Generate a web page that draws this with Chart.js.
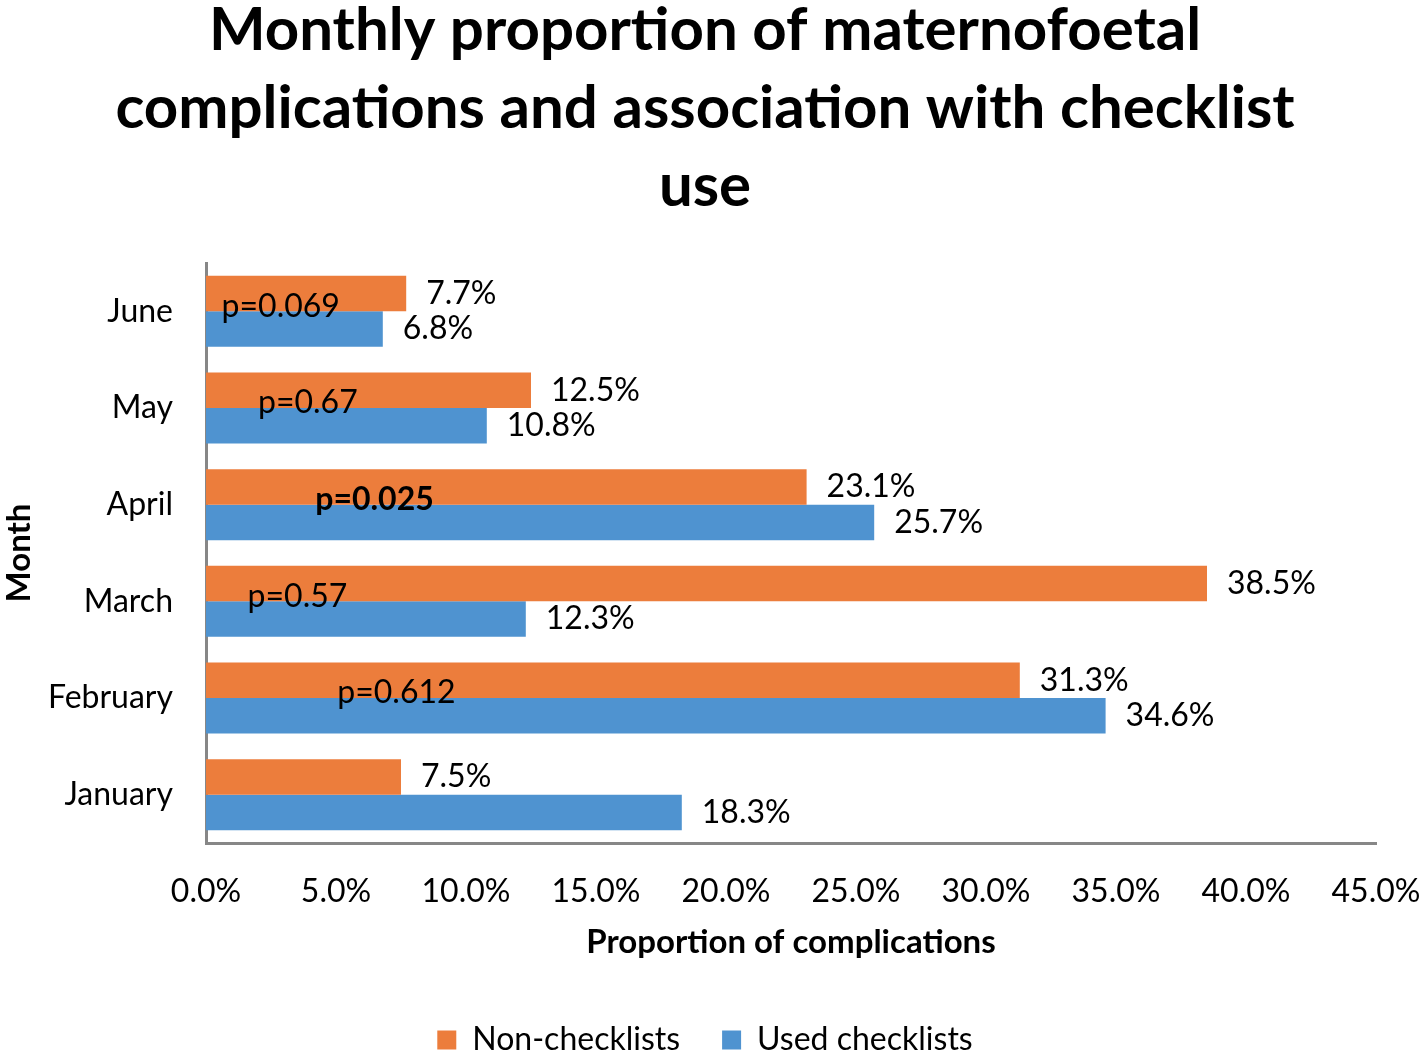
<!DOCTYPE html>
<html>
<head>
<meta charset="utf-8">
<script src="https://cdn.jsdelivr.net/npm/chart.js@4.4.1/dist/chart.umd.min.js"></script>
<style>
  body { margin: 0; background: #fff; }
</style>
</head>
<body>
<canvas id="chart" width="1424" height="1052"></canvas>
<script>
// data
const months = ['June', 'May', 'April', 'March', 'February', 'January'];
const nonChecklists = [7.7, 12.5, 23.1, 38.5, 31.3, 7.5];
const usedChecklists = [6.8, 10.8, 25.7, 12.3, 34.6, 18.3];
const pValues = ['p=0.069', 'p=0.67', 'p=0.025', 'p=0.57', 'p=0.612', ''];
const pStart = [0.6, 2.0, 4.2, 1.6, 5.05, 0]; // where the p label starts, in % units
const pBold = [false, false, true, false, false, false];

const FONT = 'Lato, "Open Sans", sans-serif';

// draws the value labels and the p-values
const labelPlugin = {
    id: 'labels',
    afterDatasetsDraw(chart) {
        const ctx = chart.ctx;
        ctx.save();
        ctx.fillStyle = '#000';
        ctx.textBaseline = 'middle';
        ctx.textAlign = 'left';
        ctx.font = '32px ' + FONT;
        chart.data.datasets.forEach((ds, i) => {
            const meta = chart.getDatasetMeta(i);
            meta.data.forEach((bar, j) => {
                ctx.fillText(ds.data[j].toFixed(1) + '%', bar.x + 20, bar.y);
            });
        });
        const xs = chart.scales.x;
        const ys = chart.scales.y;
        pValues.forEach((txt, j) => {
            if (!txt) return;
            ctx.font = (pBold[j] ? 'bold ' : '') + '32px ' + FONT;
            ctx.fillText(txt, xs.getPixelForValue(pStart[j]), ys.getPixelForValue(j) - 5);
        });
        ctx.restore();
    }
};

new Chart(document.getElementById('chart'), {
    type: 'bar',
    data: {
        labels: months,
        datasets: [
            { label: 'Non-checklists', data: nonChecklists, backgroundColor: '#EC7D3C' },
            { label: 'Used checklists', data: usedChecklists, backgroundColor: '#4F93D0' }
        ]
    },
    options: {
        indexAxis: 'y',
        responsive: false,
        animation: false,
        events: [],
        categoryPercentage: 0.735,
        barPercentage: 1.0,
        layout: { padding: { top: -8, right: 14, bottom: -14, left: 0 } },
        scales: {
            x: {
                min: 0,
                max: 45,
                ticks: {
                    stepSize: 5,
                    padding: 29,
                    color: '#000',
                    font: { family: FONT, size: 32 },
                    callback: v => v.toFixed(1) + '%'
                },
                grid: { display: false, drawTicks: false },
                border: { display: true, color: '#878787', width: 3 },
                title: {
                    display: true,
                    text: 'Proportion of complications',
                    color: '#000',
                    font: { family: FONT, size: 33, weight: 'bold' },
                    padding: { top: 0, bottom: 20 }
                },
                afterFit(scale) {
                    scale.height = 139;
                    scale.paddingLeft = 0;
                    scale.paddingRight = 48;
                }
            },
            y: {
                ticks: {
                    padding: 33,
                    color: '#000',
                    font: { family: FONT, size: 32 }
                },
                grid: { display: false, drawTicks: false },
                border: { display: true, color: '#878787', width: 3 },
                title: {
                    display: true,
                    text: 'Month',
                    color: '#000',
                    font: { family: FONT, size: 33, weight: 'bold' },
                    padding: 0
                },
                afterFit(scale) { scale.width = 206; }
            }
        },
        plugins: {
            title: {
                display: true,
                text: ['Monthly proportion of maternofoetal', 'complications and association with checklist', 'use'],
                color: '#000',
                font: { family: FONT, size: 60, weight: 'bold', lineHeight: 1.3 },
                padding: { top: 0, bottom: 37 }
            },
            legend: {
                position: 'bottom',
                labels: {
                    color: '#000',
                    boxWidth: 19,
                    boxHeight: 19,
                    padding: 42,
                    font: { family: FONT, size: 32 }
                }
            },
            tooltip: { enabled: false }
        }
    },
    plugins: [labelPlugin]
});
</script>
</body>
</html>
